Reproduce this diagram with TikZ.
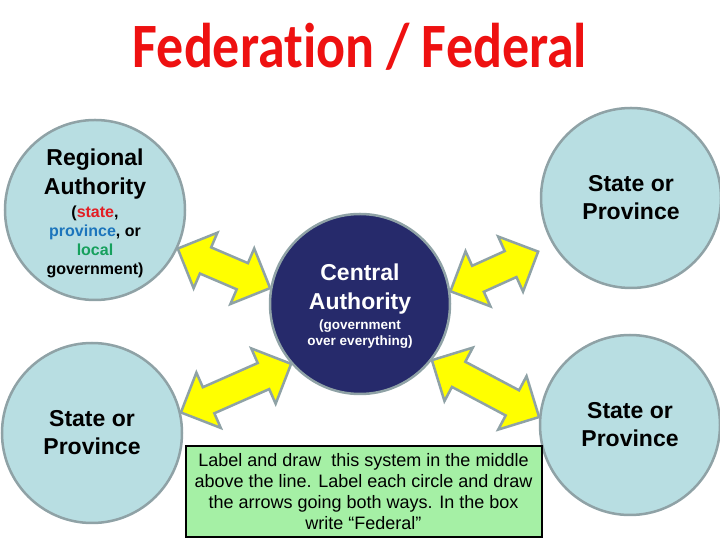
\documentclass[tikz,border=0pt]{standalone}
\usepackage{fontspec}
\setmainfont{Liberation Sans}
\newfontfamily\titlefont[Ligatures=NoCommon]{Carlito}
\usepackage{xcolor}
\usetikzlibrary{positioning, calc, shapes.arrows}
\definecolor{fdred}{HTML}{EE1111}
\definecolor{fdstate}{HTML}{E31E24}
\definecolor{fdprov}{HTML}{1C75BC}
\definecolor{fdlocal}{HTML}{16A05D}
\definecolor{fdlight}{HTML}{B8DEE2}
\definecolor{fdnavy}{HTML}{262A6B}
\definecolor{fdedge}{HTML}{8FA2A6}
\definecolor{fdyellow}{HTML}{FFFF00}
\definecolor{fdgreen}{HTML}{A5F0A5}

% two-way arrow from one point to another
\newcommand{\twoway}[2]{%
  \path let \p1=($(#2)-(#1)$), \n1={atan2(\y1,\x1)}, \n2={veclen(\x1,\y1)} in
    node[twoway, rotate=\n1, minimum height=\n2] at ($(#1)!0.5!(#2)$) {};%
}
\newcommand{\bigtxt}{\fontsize{23}{29}\selectfont}
\newcommand{\smalltxt}{\fontsize{16}{19}\selectfont}
\newcommand{\tinytxt}{\fontsize{13.5}{16}\selectfont}

\begin{document}
\begin{tikzpicture}[
  x=1pt, y=1pt,
  unit/.style={
    circle, draw=fdedge, line width=2.5pt, fill=#1,
    minimum size=180pt, inner sep=0pt, align=center,
    font=\bfseries\fontsize{16}{29}\selectfont
  },
  twoway/.style={
    double arrow, draw=fdedge, fill=fdyellow, line width=2.5pt,
    inner xsep=0pt, inner ysep=13pt,
    double arrow head extend=16pt, double arrow head indent=0pt
  },
  note/.style={
    rectangle, draw=black, line width=2pt, fill=fdgreen,
    minimum width=356pt, minimum height=91pt, align=center,
    font=\fontsize{18}{21}\selectfont
  },
]
\useasboundingbox (0,0) rectangle (720,540);

% title
\node[text=fdred, font=\titlefont\bfseries\fontsize{54}{60}\selectfont,
  anchor=base, yscale=1.17, transform shape] (title) at (360,472) {Federation / Federal};

% circles
\node[unit=fdlight] (reg) at (95,330) {\bigtxt\rule{0pt}{23pt}Regional\\\bigtxt Authority\\[-6pt]
  \smalltxt (\textcolor{fdstate}{state},\\[-10pt]
  \smalltxt\textcolor{fdprov}{province}, or\\[-10pt]
  \smalltxt\textcolor{fdlocal}{local}\\[-10pt]
  \smalltxt government)};
\node[unit=fdlight] (tr) at (631,342) {\bigtxt State or\\[-1pt]\bigtxt Province};
\node[unit=fdlight] (bl) at (92,107) {\bigtxt State or\\[-1pt]\bigtxt Province};
\node[unit=fdlight] (br) at (630,115) {\bigtxt State or\\[-1pt]\bigtxt Province};
\node[unit=fdnavy, text=white] (cen) at (360,236) {\bigtxt\rule{0pt}{21pt}Central\\\bigtxt Authority\\[-9pt]
  \tinytxt (government\\[-13pt]
  \tinytxt over everything)};

% arrows
\coordinate (trend) at ($(tr.211)!16pt!(cen.8)$);
\twoway{reg.-25}{cen.170}
\twoway{cen.8}{trend}
\twoway{bl.13}{cen.221}
\twoway{cen.-38}{br.175}

% task box
\node[note] (task) at (363.5,48) {Label and draw\ \ this system in the middle\\
  above the line. Label each circle and draw\\
  the arrows going both ways. In the box\\
  write “Federal”};

\end{tikzpicture}
\end{document}
